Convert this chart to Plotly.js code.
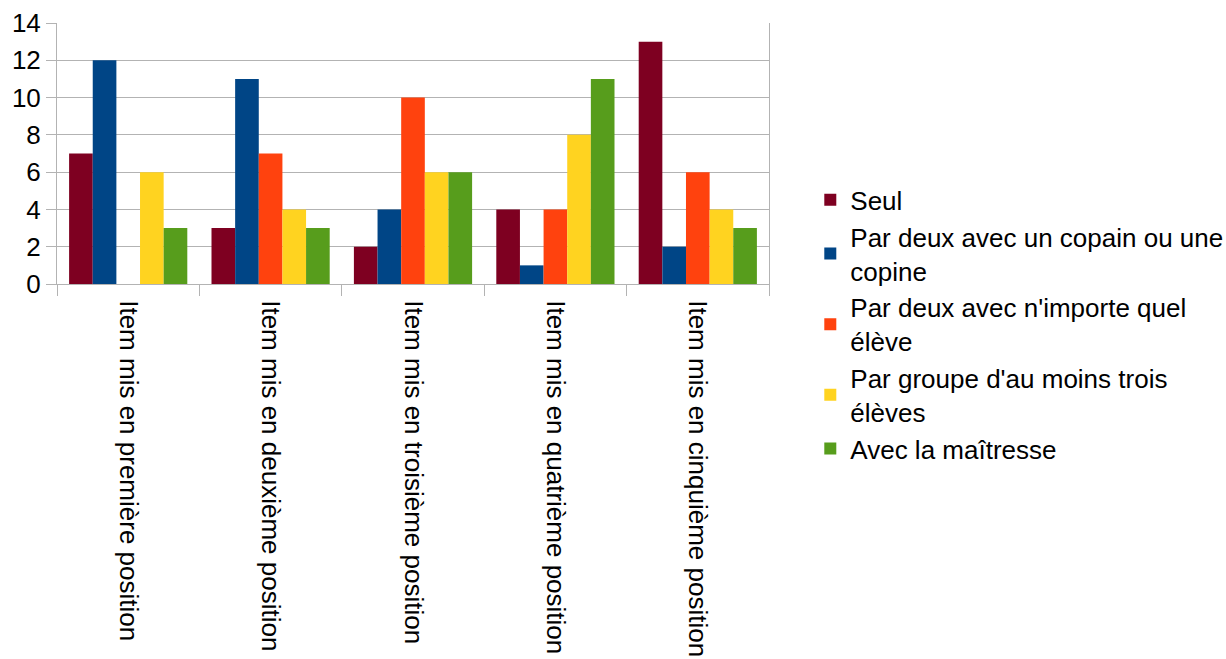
<!DOCTYPE html>
<html><head><meta charset="utf-8">
<script src="https://cdn.plot.ly/plotly-3.0.1.min.js"></script>
<style>html,body{margin:0;padding:0;background:#fff}#c{width:1226px;height:659px}</style>
</head><body><div id="c"></div>
<script>
const categories = ["Item mis en première position","Item mis en deuxième position","Item mis en troisième position","Item mis en quatrième position","Item mis en cinquième position"];
const seriesNames = ["Seul","Par deux avec un copain ou une<br>copine","Par deux avec n'importe quel<br>élève","Par groupe d'au moins trois<br>élèves","Avec la maîtresse"];
const seul = [7,3,2,4,13];
const copain = [12,11,4,1,2];
const nimporte = [0,7,10,4,6];
const groupe = [6,4,6,8,4];
const maitresse = [3,3,6,11,3];
const colors = ["#7e0021","#004586","#ff420e","#ffd320","#579d1c"];
const yTicks = [0,2,4,6,8,10,12,14];

const series = [seul,copain,nimporte,groupe,maitresse];
const data = series.map((v,i)=>({type:'bar',x:categories,y:v,name:seriesNames[i],marker:{color:colors[i]}}));

const layout = {
  width:1226,height:659,
  margin:{l:57,r:457,t:23,b:375,autoexpand:false},
  font:{family:'"Liberation Sans", Arial, sans-serif',size:26,color:'#000'},
  paper_bgcolor:'#fff',plot_bgcolor:'#fff',
  barmode:'group',bargap:0.17,bargroupgap:0,
  showlegend:true,
  legend:{x:1.058,xanchor:'left',y:-0.155,yanchor:'middle',font:{size:26},tracegroupgap:5,itemwidth:30},
  xaxis:{type:'category',tickangle:90,tickson:'boundaries',ticks:'outside',ticklen:11,tickcolor:'#b3b3b3',ticklabelstandoff:10,
         showline:true,linecolor:'#b3b3b3',linewidth:1,showgrid:false,automargin:false,tickfont:{size:26}},
  yaxis:{range:[0,14],tickvals:yTicks,ticks:'outside',ticklen:10,tickcolor:'#b3b3b3',
         showline:true,mirror:true,linecolor:'#b3b3b3',gridcolor:'#b3b3b3',zeroline:false,automargin:false,tickfont:{size:26}}
};
Plotly.newPlot('c',data,layout,{displayModeBar:false,staticPlot:true});
</script></body></html>
